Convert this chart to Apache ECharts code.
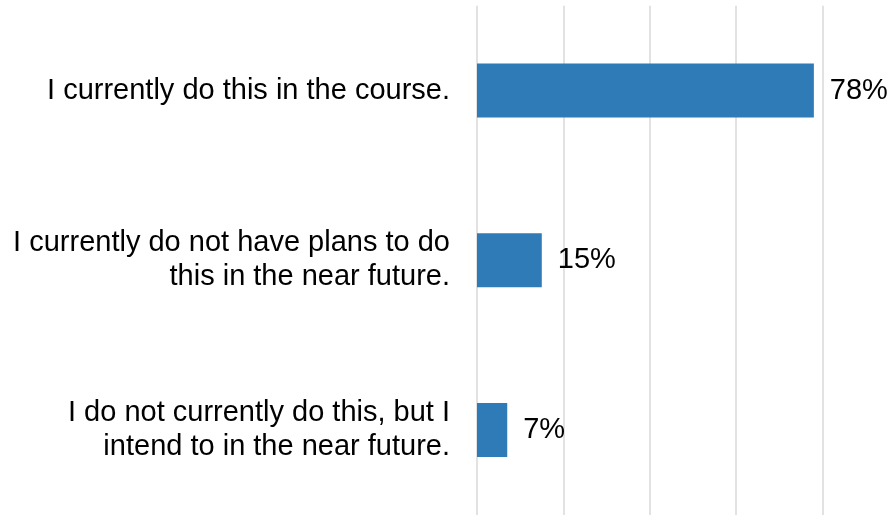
<!DOCTYPE html>
<html>
<head>
<meta charset="utf-8">
<script src="https://cdn.jsdelivr.net/npm/echarts@6/dist/echarts.min.js"></script>
<style>html,body{margin:0;padding:0;background:#fff}#c{width:887px;height:515px}</style>
</head>
<body>
<div id="c"></div>
<script>
var categories = [
  "I currently do this in the course.",
  "I currently do not have plans to do\nthis in the near future.",
  "I do not currently do this, but I\nintend to in the near future."
];
var values = [78, 15, 7];
var xTicks = [0, 20, 40, 60, 80];

var chart = echarts.init(document.getElementById('c'));
chart.setOption({
  animation: false,
  grid: { left: 477, right: 64.5, top: 5.7, bottom: -2.6, containLabel: false },
  xAxis: {
    type: 'value', min: xTicks[0], max: xTicks[xTicks.length - 1], interval: 20,
    axisLabel: { show: false }, axisLine: { show: false }, axisTick: { show: false },
    splitLine: { show: true, lineStyle: { color: '#d9d9d9', width: 1.5 } }
  },
  yAxis: {
    type: 'category', data: categories, inverse: true,
    axisLine: { show: false }, axisTick: { show: false },
    axisLabel: {
      margin: 27, fontFamily: 'Liberation Sans, Arial, sans-serif', fontSize: 29,
      color: '#000', lineHeight: 34, align: 'right'
    }
  },
  series: [{
    type: 'bar', data: values, barWidth: 54,
    itemStyle: { color: '#2e7bb7' },
    label: {
      show: true, position: 'right', distance: 16,
      formatter: function (p) { return p.value + '%'; },
      fontFamily: 'Liberation Sans, Arial, sans-serif', fontSize: 29, color: '#000'
    }
  }]
});
</script>
</body>
</html>
